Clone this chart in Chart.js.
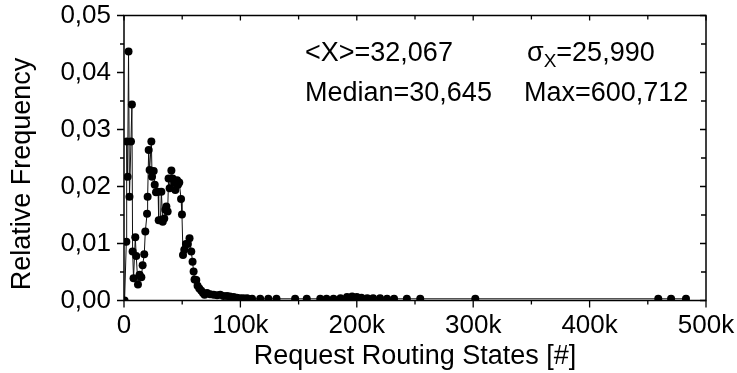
<!DOCTYPE html>
<html>
<head>
<meta charset="utf-8">
<script src="https://cdn.jsdelivr.net/npm/chart.js@4.4.1/dist/chart.umd.min.js"></script>
<style>
  html, body { margin: 0; padding: 0; background: #fff; }
  #wrap { width: 737px; height: 373px; position: relative; }
</style>
</head>
<body>
<div id="wrap"><canvas id="c" width="737" height="373"></canvas></div>
<script>
// ---- data ----
const states = [
  500, 2000, 2300, 3100, 3900, 4700, 6000, 6800, 7400, 8200,
  9700, 10500, 12000, 13400, 14900, 16000, 17400, 18300, 19800, 20300,
  21200, 22000, 23500, 24100, 25500, 26400, 27500, 29300, 29800, 31300,
  32100, 33300, 34600, 35500, 36400, 37500, 38300, 39200, 40700, 41800,
  43200, 44100, 45600, 46400, 47500, 49000, 49800, 50700, 51800, 53200,
  54900, 56300, 57800, 58900, 59800, 60600, 62100, 63200, 64700, 66400,
  67900, 69200, 71300, 74000, 77000, 80000, 82700, 85500, 88500, 91000,
  94200, 97000, 99900, 102500, 105700, 110000, 117000, 124000, 131000, 147000,
  157000, 168600, 174000, 180000, 186000, 191600, 196000, 200000, 204000, 209000,
  214000, 220000, 226000, 232000, 243000, 254500, 301800, 459000, 470000, 482800
];
const frequency = [
  0.0000, 0.0103, 0.0279, 0.0217, 0.0437, 0.0182, 0.0279, 0.0344, 0.0086, 0.0039,
  0.0111, 0.0078, 0.0028, 0.0045, 0.0041, 0.0062, 0.0081, 0.0121, 0.0152, 0.0182,
  0.0264, 0.0229, 0.0279, 0.0217, 0.0227, 0.0203, 0.0190, 0.0191, 0.0141, 0.0141,
  0.0191, 0.0138, 0.0144, 0.0159, 0.0165, 0.0156, 0.0214, 0.0197, 0.0228, 0.0214,
  0.0206, 0.0194, 0.0211, 0.0203, 0.0207, 0.0178, 0.0151, 0.0080, 0.0089, 0.0099,
  0.0099, 0.0109, 0.0086, 0.0068, 0.0051, 0.0037, 0.0036, 0.0026, 0.0021, 0.0017,
  0.0013, 0.0010, 0.0013, 0.0011, 0.0010, 0.0009, 0.0010, 0.0008, 0.0008, 0.0007,
  0.0006, 0.0005, 0.0004, 0.0004, 0.0004, 0.0003, 0.0003, 0.0003, 0.0003, 0.0003,
  0.0003, 0.0003, 0.0003, 0.0003, 0.0004, 0.0006, 0.0007, 0.0006, 0.0005, 0.0004,
  0.0004, 0.0004, 0.0003, 0.0003, 0.0003, 0.0003, 0.0003, 0.0003, 0.0003, 0.0003
];
const xTickValues = [0, 100000, 200000, 300000, 400000, 500000];
const xTickLabels = ['0', '100k', '200k', '300k', '400k', '500k'];
const yTickValues = [0, 0.01, 0.02, 0.03, 0.04, 0.05];
const yTickLabels = ['0,00', '0,01', '0,02', '0,03', '0,04', '0,05'];
const xTitle = 'Request Routing States [#]';
const yTitle = 'Relative Frequency';
const statsRow1 = ['<X>=32,067', ['σ', 'X', '=25,990']];
const statsRow2 = ['Median=30,645', 'Max=600,712'];

const FONT = '"Liberation Sans", Arial, sans-serif';
const FS_TICK = 26;
const FS_TEXT = 27;

const points = states.map((s, i) => ({ x: s, y: frequency[i] }));

const framePlugin = {
  id: 'frame',
  afterDraw(chart) {
    const { ctx, chartArea: a, scales } = chart;
    const xs = scales.x, ys = scales.y;
    ctx.save();
    ctx.strokeStyle = '#000';
    ctx.lineWidth = 1.5;
    ctx.strokeRect(a.left, a.top, a.right - a.left, a.bottom - a.top);
    ctx.lineWidth = 1.3;
    for (let v = 0; v <= 500000; v += 50000) {
      const px = xs.getPixelForValue(v);
      const major = v % 100000 === 0;
      ctx.beginPath();
      ctx.moveTo(px, a.bottom); ctx.lineTo(px, a.bottom + (major ? 7 : 4));
      ctx.moveTo(px, a.top); ctx.lineTo(px, a.top + (major ? 5 : 4));
      ctx.stroke();
    }
    for (let k = 0; k <= 10; k++) {
      const v = k * 0.005;
      const py = ys.getPixelForValue(v);
      const major = k % 2 === 0;
      ctx.beginPath();
      ctx.moveTo(a.left, py); ctx.lineTo(a.left - (major ? 7 : 4), py);
      ctx.moveTo(a.right, py); ctx.lineTo(a.right - (major ? 6 : 5), py);
      ctx.stroke();
    }
    // y title
    ctx.fillStyle = '#000';
    ctx.font = FS_TEXT + 'px ' + FONT;
    ctx.textAlign = 'center';
    ctx.textBaseline = 'middle';
    ctx.translate(23, 174);
    ctx.rotate(-Math.PI / 2);
    ctx.fillText(yTitle, 0, 0);
    ctx.restore();

    // stats text
    ctx.save();
    ctx.fillStyle = '#000';
    ctx.textAlign = 'left';
    ctx.textBaseline = 'alphabetic';
    ctx.font = FS_TEXT + 'px ' + FONT;
    ctx.fillText(statsRow1[0], 305, 61);
    ctx.fillText(statsRow2[0], 305, 101);
    ctx.fillText(statsRow2[1], 524, 101);
    const [sig, sub, rest] = statsRow1[1];
    let x0 = 527;
    ctx.fillText(sig, x0, 61);
    x0 += ctx.measureText(sig).width;
    ctx.font = Math.round(FS_TEXT * 0.7) + 'px ' + FONT;
    ctx.fillText(sub, x0, 67);
    x0 += ctx.measureText(sub).width;
    ctx.font = FS_TEXT + 'px ' + FONT;
    ctx.fillText(rest, x0, 61);
    ctx.restore();
  }
};

new Chart(document.getElementById('c'), {
  type: 'scatter',
  data: {
    datasets: [{
      data: points,
      showLine: true,
      borderColor: '#111',
      borderWidth: 1,
      backgroundColor: '#000',
      pointBackgroundColor: '#000',
      pointBorderColor: '#000',
      pointBorderWidth: 0,
      pointRadius: 4,
      tension: 0
    }]
  },
  options: {
    responsive: false,
    animation: false,
    events: [],
    layout: { padding: { top: 15.5, right: 31, left: 0, bottom: 0 } },
    plugins: { legend: { display: false }, tooltip: { enabled: false } },
    scales: {
      x: {
        type: 'linear',
        min: 0, max: 500000,
        grid: { display: false, drawTicks: false },
        border: { display: false },
        afterBuildTicks: (s) => { s.ticks = xTickValues.map(v => ({ value: v })); },
        afterFit: (s) => { s.height = 72.5; s.paddingLeft = 0; s.paddingRight = 0; },
        ticks: {
          color: '#000',
          font: { family: FONT, size: FS_TICK },
          padding: 10,
          maxRotation: 0,
          autoSkip: false,
          callback: (v) => { const i = xTickValues.indexOf(v); return i >= 0 ? xTickLabels[i] : ''; }
        },
        title: {
          display: true, text: xTitle, color: '#000',
          font: { family: FONT, size: FS_TEXT }, padding: { top: 1, bottom: 0 }
        }
      },
      y: {
        type: 'linear',
        min: 0, max: 0.05,
        grid: { display: false, drawTicks: false },
        border: { display: false },
        afterBuildTicks: (s) => { s.ticks = yTickValues.map(v => ({ value: v })); },
        afterFit: (s) => { s.width = 124; s.paddingTop = 0; s.paddingBottom = 0; },
        ticks: {
          color: '#000',
          font: { family: FONT, size: FS_TICK },
          padding: 13,
          autoSkip: false,
          callback: (v) => { const i = yTickValues.findIndex(t => Math.abs(t - v) < 1e-9); return i >= 0 ? yTickLabels[i] : ''; }
        }
      }
    }
  },
  plugins: [framePlugin]
});
</script>
</body>
</html>
